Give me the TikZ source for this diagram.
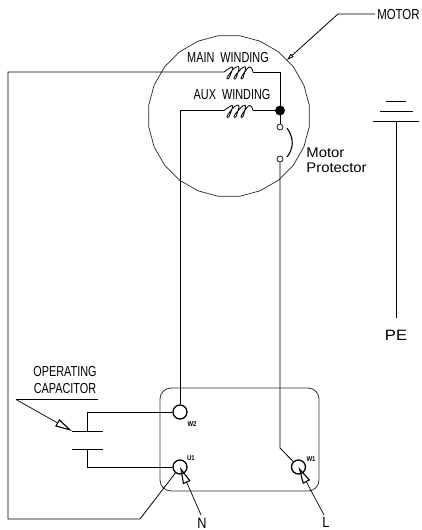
\documentclass[tikz,border=0pt]{standalone}
\usepackage{fontspec}
\setmainfont{Liberation Sans}
\usetikzlibrary{arrows.meta}
\usetikzlibrary{shapes}

\begin{document}
\begin{tikzpicture}[x=1pt, y=-1pt, line width=0.8pt,
        terminal_style/.style={circle,draw=black,fill=white,line width=1.3pt,minimum size=14pt,inner sep=0pt},
        contact_style/.style={circle,draw=black,fill=white,line width=0.7pt,minimum size=6pt,inner sep=0pt},
        junction_style/.style={circle,draw=black,fill=black,minimum size=9pt,inner sep=0pt},
        label_style/.style={font=\fontsize{14.5}{15}\selectfont,xscale=0.75,inner sep=0pt},
        wide_label_style/.style={font=\fontsize{14}{15}\selectfont,xscale=1.06,inner sep=0pt},
        supply_label_style/.style={font=\fontsize{15}{16}\selectfont,xscale=0.85,inner sep=0pt},
        small_label_style/.style={font=\fontsize{7}{8}\selectfont\bfseries,xscale=0.85,inner sep=0pt},
        pointer_style/.style={line width=0.7pt,-{Triangle[open,length=17pt,width=8pt,line width=1.1pt]}},
        plate_style/.style={line width=0.8pt}]

        \useasboundingbox (0,0) rectangle (422,530);

        % motor housing and terminal box
        \node [regular polygon,regular polygon sides=24,draw=black!85,line width=0.7pt,minimum size=162pt,inner sep=0pt](motor) at (229,116) {};
        \node [rectangle,rounded corners=11pt,draw=black!80,line width=0.8pt,minimum width=159pt,minimum height=103pt,inner sep=0pt](box) at (239.5,439.5) {};

        % terminals
        \node [terminal_style](w2) at (180,412) {};
        \node [terminal_style](u1) at (180,467) {};
        \node [terminal_style](w1) at (298.5,467) {};
        \node [small_label_style] at (192,424.5) {W2};
        \node [small_label_style] at (191,458) {U1};
        \node [small_label_style] at (311,459) {W1};

        % windings
        \coordinate (main_a) at (224,72);
        \coordinate (main_b) at (253,72);
        \coordinate (aux_a) at (224,110.5);
        \coordinate (aux_b) at (253,110.5);
        \coordinate (main_corner) at (280,72);
        \coordinate (aux_corner) at (180,110.5);
        \coordinate (left_top) at (8,72);
        \coordinate (left_bottom) at (8,519);
        \coordinate (bottom_end) at (140,519);
        \coordinate (prot_bend) at (280,448);
        \node [junction_style](joint) at (280,110.5) {};
        \node [contact_style](c1) at (280,127) {};
        \node [contact_style](c2) at (280,159) {};
        \foreach \coilstart in {main_a,aux_a}
            \draw [shift={(\coilstart)}] plot [smooth,tension=0.6] coordinates {(0,0)(5,-3.5)(8,-5)(8.5,-3)(5,6)(3,6.5)(4,4)(9.5,-3)(13,-5.2)(15,-4)(12,6)(10,6.5)(11,4)(17,-3)(20,-5)(21.5,-4)(19,6)(17,6.5)(18,4)(23,-3)(26,-5)(28,-3)(29,0)};
        \draw (main_b) -- (main_corner) -- (joint);
        \draw (main_a) -- (left_top) -- (left_bottom) -- (bottom_end) -- (u1);
        \draw (aux_b) -- (joint);
        \draw (aux_a) -- (aux_corner) -- (w2);
        \draw (joint) -- (c1);
        \draw (c2) -- (prot_bend) -- (w1);
        \draw [line width=1.1pt] (287,128) .. controls (294,138) and (294,148) .. (287,157);
        \node [label_style] at (228,58) {MAIN\hspace{4pt} WINDING};
        \node [label_style] at (232,95) {AUX\hspace{4pt} WINDING};
        \node [wide_label_style,anchor=west] at (306,153) {Motor};
        \node [wide_label_style,anchor=west] at (306,168) {Protector};

        % capacitor
        \coordinate (plate_a1) at (72,431);
        \coordinate (plate_a2) at (103,431);
        \coordinate (plate_b1) at (72,449);
        \coordinate (plate_b2) at (103,449);
        \coordinate (plate_a) at (87,431);
        \coordinate (plate_b) at (87,449);
        \coordinate (lead_a) at (87,412);
        \coordinate (lead_b) at (87,467);
        \draw [plate_style] (plate_a1) -- (plate_a2);
        \draw [plate_style] (plate_b1) -- (plate_b2);
        \draw (plate_a) -- (lead_a) -- (w2);
        \draw (plate_b) -- (lead_b) -- (u1);
        \node [label_style] at (65,372) {OPERATING};
        \node [label_style] at (65,389) {CAPACITOR};
        \coordinate (cap_rule_a) at (16,399.5);
        \coordinate (cap_rule_b) at (98,399.5);
        \draw [line width=0.7pt] (cap_rule_b) -- (cap_rule_a);
        \draw [pointer_style] (cap_rule_a) -- (plate_a1);

        % supply pointers
        \coordinate (n_end) at (201,515);
        \coordinate (l_end) at (324,515);
        \draw [pointer_style] (n_end) -- (u1.center);
        \draw [pointer_style] (l_end) -- (w1.center);
        \node [supply_label_style] at (202,523) {N};
        \node [supply_label_style] at (326,522) {L};

        % motor callout
        \coordinate (motor_bend) at (338,14);
        \coordinate (motor_end) at (375,14);
        \node [label_style,xscale=1.05,anchor=west] at (377,15) {MOTOR};
        \draw [-{Triangle[open,length=7pt,width=4pt]}] (motor_end) -- (motor_bend) -- (motor.44);

        % earth
        \coordinate (pe_a1) at (386,101);
        \coordinate (pe_a2) at (406,101);
        \coordinate (pe_b1) at (380,111);
        \coordinate (pe_b2) at (413,111);
        \coordinate (pe_c1) at (373,121);
        \coordinate (pe_c2) at (419,121);
        \coordinate (pe_top) at (396,121);
        \coordinate (pe_bottom) at (396,318);
        \draw (pe_a1) -- (pe_a2);
        \draw (pe_b1) -- (pe_b2);
        \draw (pe_c1) -- (pe_c2);
        \draw (pe_top) -- (pe_bottom);
        \node [supply_label_style,xscale=1.3] at (396,335) {PE};
\end{tikzpicture}
\end{document}
